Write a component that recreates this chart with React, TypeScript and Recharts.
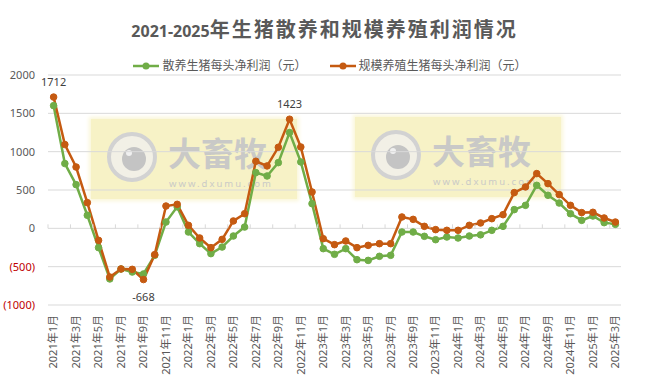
import React from "react"
import { LineChart, Line, XAxis, YAxis, CartesianGrid, LabelList } from "recharts"

// 2021年1月 .. 2025年3月, one label per month
const months: string[] = []
for (let y = 2021; y <= 2025; y++) {
  for (let m = 1; m <= 12; m++) {
    if (y === 2025 && m > 3) break
    months.push(`${y}年${m}月`)
  }
}

// 散养生猪每头净利润（元）
const backyard = [
  1600, 845, 570, 170, -252, -660, -530, -570, -595, -352, 82, 280,
  -48, -200, -330, -244, -100, 17, 727, 683, 857, 1249, 866, 322,
  -265, -339, -265, -409, -418, -365, -352, -48, -48, -104, -148, -113,
  -126, -100, -85, -26, 26, 244, 300, 561, 431, 330, 191, 104,
  161, 74, 52,
]

// 规模养殖生猪每头净利润（元）
const largeScale = [
  1712, 1093, 800, 335, -157, -635, -530, -535, -668, -343, 291, 313,
  39, -126, -252, -144, 96, 191, 875, 814, 1057, 1423, 1061, 474,
  -135, -213, -165, -252, -222, -200, -200, 148, 117, 26, -17, -26,
  -26, 39, 70, 126, 178, 466, 540, 714, 583, 440, 300, 205,
  209, 135, 82,
]

const yTicks = [-1000, -500, 0, 500, 1000, 1500, 2000]
const labelsAbove = [0, 21]
const labelsBelow = [8]

const data = months.map((m, i) => ({ month: m, backyard: backyard[i], largeScale: largeScale[i] }))

const W = 659
const H = 381
const TOP = 75
const BOTTOM = 76
const LEFT = 48
const RIGHT = 38
const PLOT_H = H - TOP - BOTTOM
const ZERO_Y = TOP + PLOT_H * (2000 / 3000)
const BAND = (W - LEFT - RIGHT) / months.length

const GREEN = "#70AD47"
const ORANGE = "#C55A11"
const TEXT = "#595959"
const FONT = '"Noto Sans", "Noto Sans CJK SC", sans-serif'

function XTick({ x, y, payload }: any) {
  return (
    <g>
      <line x1={x - BAND / 2} x2={x - BAND / 2} y1={ZERO_Y - 4} y2={ZERO_Y} stroke="#d9d9d9" />
      <text
        x={x}
        y={y + 2}
        transform={`rotate(-90, ${x}, ${y + 2})`}
        textAnchor="end"
        dy="0.35em"
        fontSize={11}
        fill={TEXT}
        fontFamily={FONT}
      >
        {payload.value}
      </text>
    </g>
  )
}

function YTick({ x, y, payload }: any) {
  const v = payload.value
  const neg = v < 0
  return (
    <text x={x} y={y} dy={4} textAnchor="end" fontSize={11} fill={neg ? "#C00000" : TEXT} fontFamily={FONT}>
      {neg ? `(${-v})` : v}
    </text>
  )
}

function PeakLabel({ x, y, value, index }: any) {
  if (labelsAbove.includes(index)) {
    return (
      <text x={x} y={y - 15} dy={4} textAnchor="middle" fontSize={11} fill="#404040" fontFamily={FONT}>
        {value}
      </text>
    )
  }
  if (labelsBelow.includes(index)) {
    return (
      <text x={x} y={y + 17} dy={4} textAnchor="middle" fontSize={11} fill="#404040" fontFamily={FONT}>
        {value}
      </text>
    )
  }
  return null
}

function Watermark({ left, top }: { left: number; top: number }) {
  return (
    <div
      style={{
        position: "absolute",
        left,
        top,
        width: 206,
        height: 80,
        background: "#f7f2c6",
        boxShadow: "0 0 4px 2px #faf6d8",
      }}
    >
      <svg width={206} height={80}>
        <circle cx={41} cy={38} r={23} fill="#f2f0e6" stroke="#d2d2d2" strokeWidth={4} />
        <circle cx={43} cy={40} r={12} fill="#c4c4c4" />
        <circle cx={38} cy={34} r={3} fill="#f0f0f0" />
        <text x={77} y={47} fontSize={33} fontWeight="bold" fill="#c9c9c7" fontFamily='"Noto Sans CJK SC", sans-serif'>
          大畜牧
        </text>
        <text x={78} y={68} fontSize={9.5} letterSpacing={2} fill="#cacac6" fontFamily={FONT}>
          www.dxumu.com
        </text>
      </svg>
    </div>
  )
}

function LegendItem({ color, label }: { color: string; label: string }) {
  return (
    <div style={{ display: "flex", alignItems: "center" }}>
      <svg width={28} height={10}>
        <line x1={1} x2={27} y1={5} y2={5} stroke={color} strokeWidth={2.5} />
        <circle cx={14} cy={5} r={3.5} fill={color} />
      </svg>
      <span style={{ marginLeft: 2 }}>{label}</span>
    </div>
  )
}

export default function App() {
  return (
    <div style={{ position: "absolute", left: 0, top: 0, width: W, height: H, background: "#fff", fontFamily: FONT }}>
      <Watermark left={91} top={119} />
      <Watermark left={355} top={117} />
      <div
        style={{
          position: "absolute",
          top: 18,
          left: 0,
          width: W - 10,
          textAlign: "center",
          fontWeight: "bold",
          lineHeight: "24px",
          color: TEXT,
          fontFamily: FONT,
          whiteSpace: "nowrap",
        }}
      >
        <span style={{ fontSize: 16 }}>2021-2025</span>
        <span style={{ fontSize: 20, letterSpacing: 2 }}>年生猪散养和规模养殖利润情况</span>
      </div>
      <div
        style={{
          position: "absolute",
          top: 58,
          left: 0,
          width: W,
          display: "flex",
          justifyContent: "center",
          gap: 22,
          fontSize: 12,
          lineHeight: "16px",
          color: TEXT,
          zIndex: 2,
        }}
      >
        <LegendItem color={GREEN} label="散养生猪每头净利润（元）" />
        <LegendItem color={ORANGE} label="规模养殖生猪每头净利润（元）" />
      </div>
      <div style={{ position: "absolute", left: 0, top: 0, zIndex: 1 }}>
        <LineChart width={W} height={H} data={data} margin={{ top: TOP, right: RIGHT, bottom: 0, left: 0 }}>
          <CartesianGrid vertical={false} stroke="#d9d9d9" />
          <XAxis
            dataKey="month"
            scale="band"
            interval={1}
            height={BOTTOM}
            axisLine={false}
            tickLine={false}
            tick={<XTick />}
          />
          <YAxis
            domain={[-1000, 2000]}
            ticks={yTicks}
            width={LEFT}
            axisLine={false}
            tickLine={false}
            tickMargin={7}
            tick={<YTick />}
          />
          <Line
            type="linear"
            dataKey="backyard"
            stroke={GREEN}
            strokeWidth={2.5}
            dot={{ r: 3.3, fill: GREEN, stroke: GREEN, strokeWidth: 1 }}
            isAnimationActive={false}
          />
          <Line
            type="linear"
            dataKey="largeScale"
            stroke={ORANGE}
            strokeWidth={2.5}
            dot={{ r: 3.3, fill: ORANGE, stroke: ORANGE, strokeWidth: 1 }}
            isAnimationActive={false}
          >
            <LabelList dataKey="largeScale" content={<PeakLabel />} />
          </Line>
        </LineChart>
      </div>
    </div>
  )
}
